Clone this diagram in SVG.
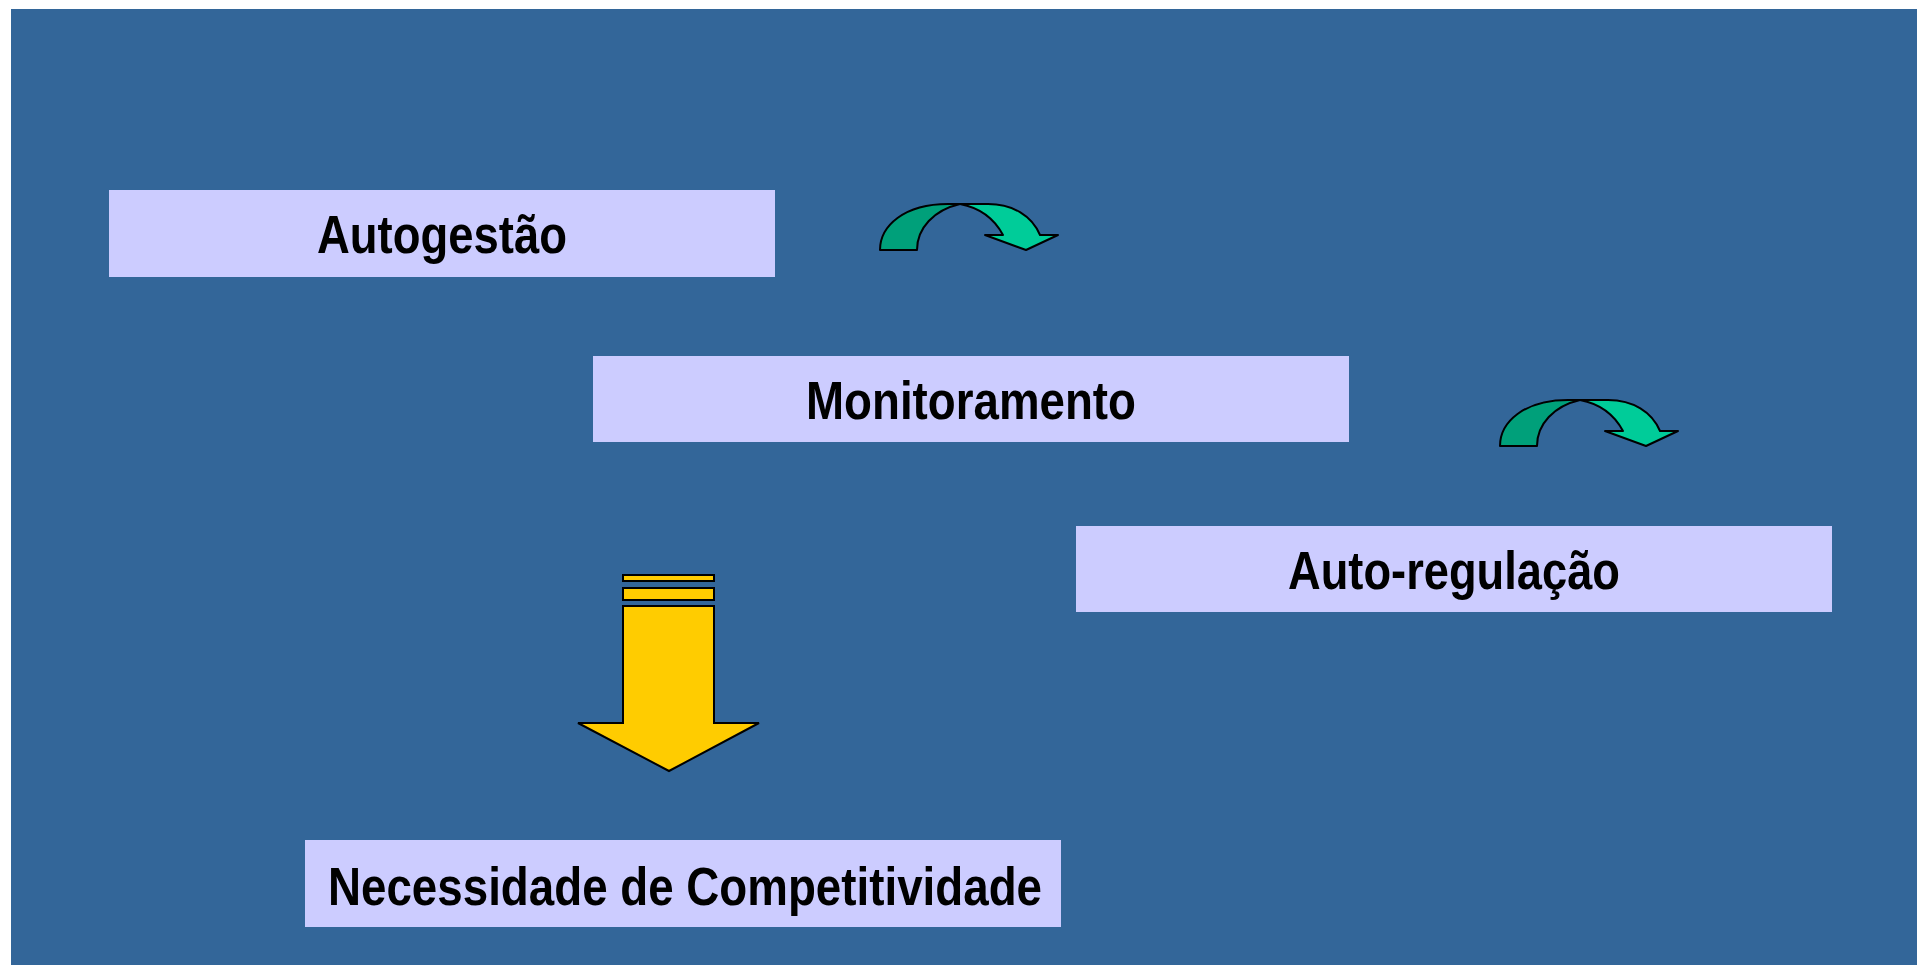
<svg xmlns="http://www.w3.org/2000/svg" xmlns:xlink="http://www.w3.org/1999/xlink" width="1917" height="965" viewBox="0 0 1917 965">
<style>
.box{fill:#ccccff;}
.lbl{font-family:"Liberation Sans",Arial,sans-serif;font-weight:bold;font-size:54px;fill:#000;text-anchor:middle;}
.dk{fill:#00a07a;stroke:#000;stroke-width:2;stroke-linejoin:round;}
.lt{fill:#00cc99;stroke:#000;stroke-width:2;stroke-linejoin:round;}
.yl{fill:#ffcc00;stroke:#000;stroke-width:2;stroke-linejoin:miter;}
</style>
<defs>
<g id="curved">
<path class="dk" d="M880,250 C880,226 904,204 948,204 L960,204 C934,210 917,228 917,250 Z"/>
<path class="lt" d="M960,204 L988,204 C1013,204 1032,216 1040,235 L1058,235 L1026,250 L985,235 L1003,235 C995,220 981,208 960,204 Z"/>
</g>
</defs>
<rect x="11" y="9" width="1906" height="956" fill="#336699"/>
<g id="autogestao">
<rect class="box" x="109" y="190" width="666" height="87"/>
<text class="lbl" x="442" y="253" textLength="250" lengthAdjust="spacingAndGlyphs">Autogestão</text>
</g>
<g id="monitoramento">
<rect class="box" x="593" y="356" width="756" height="86"/>
<text class="lbl" x="971" y="419" textLength="330" lengthAdjust="spacingAndGlyphs">Monitoramento</text>
</g>
<g id="autoregulacao">
<rect class="box" x="1076" y="526" width="756" height="86"/>
<text class="lbl" x="1454" y="589" textLength="332" lengthAdjust="spacingAndGlyphs">Auto-regulação</text>
</g>
<g id="necessidade">
<rect class="box" x="305" y="840" width="756" height="87"/>
<text class="lbl" x="685" y="905" textLength="714" lengthAdjust="spacingAndGlyphs">Necessidade de Competitividade</text>
</g>
<g id="connectors">
<use xlink:href="#curved"/>
<use xlink:href="#curved" transform="translate(620,196)"/>
<g id="down-arrow">
<rect class="yl" x="623" y="575" width="91" height="6"/>
<rect class="yl" x="623" y="588" width="91" height="12"/>
<path class="yl" d="M623,606 L714,606 L714,723 L759,723 L669,771 L578,723 L623,723 Z"/>
</g>
</g>
</svg>
